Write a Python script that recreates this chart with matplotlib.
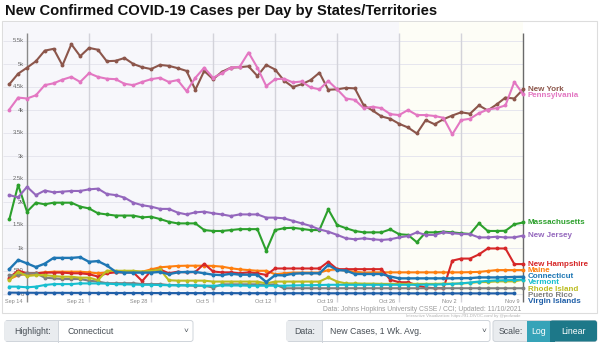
import matplotlib
matplotlib.use('Agg')
import matplotlib.pyplot as plt
import numpy as np
import pandas as pd
import matplotlib.dates as mdates
from matplotlib.patches import Rectangle, FancyBboxPatch

plt.rcParams['font.family'] = ['Liberation Sans', 'DejaVu Sans']

# ---------------- data ----------------
dates = pd.date_range('2021-09-12', '2021-11-09')

new_york = [4560, 4790, 4920, 5060, 5290, 5330, 4970, 5430, 5170, 5350,
            5310, 5060, 5070, 5130, 5000, 4930, 4890, 4980, 4960, 4910,
            4850, 4440, 4850, 4670, 4830, 4920, 4930, 4950, 4740, 4980,
            4880, 4640, 4500, 4560, 4650, 4810, 4440, 4450, 4480, 4470,
            4100, 3990, 3860, 3810, 3700, 3620, 3490, 3780, 3690, 3800,
            3880, 3950, 3920, 4100, 3990, 4120, 4270, 4250, 4450]
pennsylvania = [4010, 4270, 4250, 4320, 4540, 4580, 4660, 4720, 4610, 4800,
                4720, 4680, 4670, 4570, 4540, 4610, 4670, 4700, 4610, 4650,
                4410, 4700, 4920, 4700, 4800, 4920, 4940, 5250, 4920, 4520,
                4670, 4680, 4600, 4620, 4490, 4450, 4630, 4450, 4250, 4220,
                4040, 4070, 4040, 3910, 3890, 4000, 3890, 3890, 3870, 3830,
                3470, 3780, 3810, 3930, 4010, 4040, 4100, 4610, 4340]
new_jersey = [2150, 2100, 2330, 2150, 2250, 2210, 2225, 2240, 2240, 2275,
              2290, 2175, 2150, 2095, 1985, 1930, 1900, 1850, 1850, 1770,
              1730, 1775, 1790, 1755, 1730, 1695, 1730, 1730, 1730, 1660,
              1660, 1645, 1590, 1535, 1480, 1405, 1355, 1285, 1210, 1190,
              1210, 1190, 1175, 1190, 1230, 1260, 1340, 1285, 1285, 1340,
              1320, 1305, 1300, 1230, 1230, 1245, 1230, 1230, 1270]
massachusetts = [1620, 2370, 1790, 1985, 1950, 1985, 1985, 1985, 1900, 1860,
                 1755, 1730, 1705, 1705, 1705, 1665, 1680, 1630, 1570, 1535,
                 1535, 1535, 1390, 1370, 1370, 1390, 1410, 1410, 1410, 940,
                 1390, 1430, 1440, 1415, 1390, 1390, 1840, 1500, 1430, 1370,
                 1340, 1340, 1340, 1405, 1300, 1285, 1125, 1340, 1340, 1355,
                 1340, 1320, 1305, 1535, 1370, 1370, 1375, 1515, 1555]
connecticut = [540, 740, 665, 585, 660, 785, 785, 785, 800, 700,
               715, 620, 485, 465, 465, 465, 465, 480, 430, 470,
               480, 480, 450, 420, 410, 440, 420, 420, 420, 260,
               410, 405, 440, 450, 450, 450, 630, 520, 510, 435,
               435, 435, 435, 380, 340, 340, 340, 340, 340, 340,
               340, 345, 345, 360, 360, 360, 365, 370, 375]
new_hampshire = [355, 510, 450, 450, 465, 465, 465, 450, 450, 430,
                 380, 450, 470, 470, 470, 280, 505, 535, 450, 485,
                 470, 480, 655, 490, 470, 470, 450, 470, 450, 415,
                 555, 555, 555, 555, 555, 555, 700, 540, 540, 540,
                 540, 540, 540, 310, 255, 255, 190, 140, 125, 125,
                 725, 770, 770, 860, 990, 990, 990, 650, 650]
maine = [320, 410, 435, 450, 470, 485, 485, 485, 485, 470,
         450, 470, 485, 485, 485, 485, 535, 580, 595, 610,
         615, 615, 615, 610, 595, 560, 535, 520, 505, 505,
         430, 450, 465, 465, 465, 465, 520, 535, 505, 485,
         465, 470, 470, 470, 470, 470, 470, 470, 470, 470,
         470, 470, 475, 480, 500, 520, 520, 520, 520]
rhode_island = [300, 485, 390, 410, 410, 390, 375, 375, 355, 355,
                300, 505, 505, 505, 505, 485, 505, 535, 300, 290,
                290, 290, 290, 270, 270, 270, 270, 270, 270, 230,
                270, 270, 270, 270, 270, 270, 360, 270, 230, 230,
                225, 225, 220, 220, 220, 220, 220, 220, 220, 225,
                225, 230, 240, 260, 260, 275, 275, 275, 310]
puerto_rico = [410, 410, 450, 450, 355, 340, 325, 325, 325, 290,
               270, 235, 235, 235, 235, 215, 215, 215, 195, 195,
               190, 180, 180, 140, 210, 210, 210, 210, 210, 200,
               210, 125, 125, 125, 125, 125, 125, 125, 125, 125,
               125, 125, 125, 125, 125, 125, 125, 125, 125, 125,
               125, 125, 125, 125, 125, 125, 125, 125, 125]
vermont = [160, 160, 145, 160, 195, 215, 215, 215, 230, 230,
           230, 225, 215, 210, 205, 200, 200, 195, 190, 185,
           185, 185, 180, 180, 185, 185, 185, 180, 180, 180,
           180, 180, 185, 190, 190, 195, 200, 200, 200, 200,
           200, 200, 200, 200, 200, 200, 200, 205, 205, 210,
           220, 230, 250, 270, 285, 295, 300, 305, 315]
virgin_islands = [30, 28, 27, 26, 26, 25, 25, 24, 24, 24,
                  23, 23, 22, 22, 22, 21, 21, 21, 20, 20,
                  20, 20, 19, 19, 19, 19, 18, 18, 18, 18,
                  18, 17, 17, 17, 17, 16, 16, 16, 16, 16,
                  15, 15, 15, 15, 15, 15, 14, 14, 14, 14,
                  14, 14, 14, 14, 14, 14, 14, 14]

series_names = ['Connecticut', 'Maine', 'Massachusetts', 'New Hampshire', 'New Jersey',
                'New York', 'Pennsylvania', 'Puerto Rico', 'Rhode Island', 'Vermont',
                'Virgin Islands']
series_values = [connecticut, maine, massachusetts, new_hampshire, new_jersey,
                 new_york, pennsylvania, puerto_rico, rhode_island, vermont,
                 virgin_islands]
series_colors = ['#1f77b4', '#ff7f0e', '#2ca02c', '#d62728', '#9467bd',
                 '#8c564b', '#e377c2', '#7f7f7f', '#bcbd22', '#17becf', '#1f5fa8']
highlight = 'Connecticut'

y_ticks = [0, 500, 1000, 1500, 2000, 2500, 3000, 3500, 4000, 4500, 5000, 5500]
y_tick_labels = ['0', '500', '1k', '1.5k', '2k', '2.5k', '3k', '3.5k', '4k', '4.5k', '5k', '5.5k']
x_tick_dates = pd.date_range('2021-09-14', '2021-11-09', freq='7D')
x_tick_labels = ['Sep 14', 'Sep 21', 'Sep 28', 'Oct 5', 'Oct 12', 'Oct 19', 'Oct 26', 'Nov 2', 'Nov 9']

# ---------------- layout (pixels) ----------------
W, H = 600, 344
fig = plt.figure(figsize=(W / 100, H / 100), dpi=100)
fig.patch.set_facecolor('white')

ov = fig.add_axes([0, 0, 1, 1], zorder=0)
ov.set_xlim(0, W)
ov.set_ylim(H, 0)
ov.axis('off')

ov.add_patch(Rectangle((2, 21), 595, 292, facecolor='white', edgecolor='#dddddd', lw=0.8))

px_left, px_right, px_top, px_bottom = 3, 596, 22, 296
x0_px, day_px = 9.3, 8.86
zero_px, val_px = 294.0, 0.046

ax = fig.add_axes([px_left / W, 1 - px_bottom / H, (px_right - px_left) / W,
                   (px_bottom - px_top) / H], zorder=1)
ax.patch.set_alpha(0)
d0 = mdates.date2num(dates[0])
ax.set_xlim(d0 - (x0_px - px_left) / day_px, d0 + (px_right - x0_px) / day_px)
ax.set_ylim(-(px_bottom - zero_px) / val_px, (zero_px - px_top) / val_px)
for s in ax.spines.values():
    s.set_visible(False)

last = mdates.date2num(dates[-1])
xmin_lim = ax.get_xlim()[0]
ytop_line = (zero_px - 33) / val_px

ax.axvspan(xmin_lim, last, color='#f7f7fb', zorder=0, lw=0)
ax.axvspan(mdates.date2num(pd.Timestamp('2021-10-26')), last, color='#fdfdf6', zorder=0, lw=0)

for v in y_ticks:
    ax.hlines(v, xmin_lim, last, color='#e6e6ee', lw=0.7, zorder=1)

for k, d in enumerate(x_tick_dates):
    dn = mdates.date2num(d)
    if k == 0:
        c = '#8a8a8a'
    elif k == len(x_tick_dates) - 1:
        c = '#6a6a6a'
    else:
        c = '#d3d3da'
    ax.vlines(dn, ax.get_ylim()[0] - 120, ytop_line, color=c, lw=1.0, zorder=1, clip_on=False)
    ax.annotate(x_tick_labels[k], (dn, 0), xytext=(-3, -3.5), textcoords='offset points',
                ha='right', va='top', fontsize=4, color='#888888', annotation_clip=False)

ax.set_xticks([])
ax.set_yticks([])

y_axis_x = mdates.date2num(x_tick_dates[0])
for v, lab in zip(y_ticks, y_tick_labels):
    ax.annotate(lab, (y_axis_x, v), xytext=(-2.2, 0), textcoords='offset points',
                ha='right', va='center', fontsize=4.2, color='#666666', zorder=1)

order = [i for i, n in enumerate(series_names) if n != highlight] + \
        [series_names.index(highlight)]
for i in order:
    vals = series_values[i]
    is_hl = series_names[i] == highlight
    ax.plot(dates[:len(vals)], vals, color=series_colors[i], lw=1.7 if is_hl else 1.5,
            marker='o', ms=2.8, mew=0, zorder=4 if is_hl else 3, clip_on=False)

ov.text(31.5, 33, 'New Daily Confirmed Cases', rotation=90, ha='center', va='top',
        fontsize=5.3, fontweight='bold', color='#111111', zorder=5)
ov.text(38.5, 33, '(7-day Average)', rotation=90, ha='center', va='top',
        fontsize=5, color='#999999', zorder=5)

ends = []
for i, vals in enumerate(series_values):
    ends.append((zero_px - vals[-1] * val_px, i))
ends.sort(key=lambda t: (t[0], series_names[t[1]] == 'Rhode Island'))
placed = []
gap = 6.2
for py, i in ends:
    if placed and py < placed[-1][0] + gap and py > placed[-1][0] - 40:
        py = placed[-1][0] + gap
    placed.append((py, i))
for py, i in placed:
    ov.text(528, py, series_names[i], ha='left', va='center', fontsize=5.8,
            fontweight='bold', color=series_colors[i], zorder=6)

ov.text(5, 11.5, 'New Confirmed COVID-19 Cases per Day by States/Territories',
        ha='left', va='center', fontsize=10.6, fontweight='bold', color='#111111')

ov.text(521, 309.5, 'Data: Johns Hopkins University CSSE / CCI; Updated: 11/10/2021',
        ha='right', va='center', fontsize=4.9, color='#9a9a9a')
ov.text(521, 316.5, 'Interactive Visualization: https://91-DIVOC.com/ by @profwade',
        ha='right', va='center', fontsize=3, color='#b0b0b0')

def box(x0, x1, fc, ec='#cfd4da'):
    ov.add_patch(FancyBboxPatch((x0, 320.5), x1 - x0, 21, boxstyle='round,pad=0,rounding_size=2.5',
                                facecolor=fc, edgecolor=ec, lw=0.7))

box(5, 193, 'white')
ov.add_patch(Rectangle((5.3, 320.9), 52.7, 20.2, facecolor='#e9ecef', edgecolor='none'))
ov.plot([58, 58], [320.5, 341.5], color='#cfd4da', lw=0.7)
ov.text(14, 331, 'Highlight:', fontsize=6.3, va='center', color='#495057')
ov.text(67, 331, 'Connecticut', fontsize=6.3, va='center', color='#495057')
ov.text(186, 331, '\u02c5', fontsize=6, va='center', ha='center', color='#495057')

box(287, 490, 'white')
ov.add_patch(Rectangle((287.3, 320.9), 34.7, 20.2, facecolor='#e9ecef', edgecolor='none'))
ov.plot([322, 322], [320.5, 341.5], color='#cfd4da', lw=0.7)
ov.text(294, 331, 'Data:', fontsize=6.3, va='center', color='#495057')
ov.text(330, 331, 'New Cases, 1 Wk. Avg.', fontsize=6.3, va='center', color='#495057')
ov.text(484, 331, '\u02c5', fontsize=6, va='center', ha='center', color='#495057')

box(493, 597, '#e9ecef')
ov.add_patch(Rectangle((527, 320.5), 23, 21, facecolor='#36a3b8', edgecolor='none'))
ov.add_patch(FancyBboxPatch((550, 320.5), 47, 21, boxstyle='round,pad=0,rounding_size=2.5',
                            facecolor='#1d7889', edgecolor='none'))
ov.add_patch(Rectangle((550, 320.5), 5, 21, facecolor='#1d7889', edgecolor='none'))
ov.text(499, 331, 'Scale:', fontsize=6.3, va='center', color='#495057')
ov.text(538.5, 331, 'Log', fontsize=6.3, va='center', ha='center', color='white')
ov.text(573.5, 331, 'Linear', fontsize=6.3, va='center', ha='center', color='white')

fig.savefig('out.png', dpi=100)
